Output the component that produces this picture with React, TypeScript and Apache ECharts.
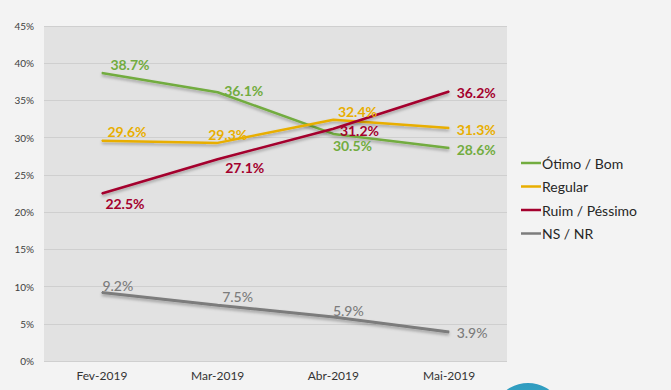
import React, { useEffect, useRef } from "react";
import * as echarts from "echarts";

const categories = ["Fev-2019", "Mar-2019", "Abr-2019", "Mai-2019"];
const otimoBom = [38.7, 36.1, 30.5, 28.6];
const regular = [29.6, 29.3, 32.4, 31.3];
const ruimPessimo = [22.5, 27.1, 31.2, 36.2];
const nsNr = [9.2, 7.5, 5.9, 3.9];
const seriesNames = ["Ótimo / Bom", "Regular", "Ruim / Péssimo", "NS / NR"];
const colors = ["#72ac3f", "#e8ae00", "#a4002d", "#7c7c7c"];

// label offsets (left edge / vertical centre relative to point)
const offsets: number[][][] = [
  [[8, -8], [6, -2], [-1, 12], [7, 1]],
  [[5, -9], [-10, -8], [4, -8], [7, 2]],
  [[3, 10], [7, 8], [6, 2], [7, 1]],
  [[0, -7], [4, -9], [-1, -7], [7, 1]],
];

export default function App() {
  const ref = useRef<HTMLDivElement>(null);
  useEffect(() => {
    document.body.style.margin = "0";
    const chart = echarts.init(ref.current!, null, { renderer: "svg" });
    const allData = [otimoBom, regular, ruimPessimo, nsNr];
    const font = "Lato, 'Open Sans', sans-serif";
    chart.setOption({
      animation: false,
      backgroundColor: "#f3f3f3",
      grid: {
        left: 44,
        right: 164,
        top: 26,
        bottom: 29,
        show: true,
        backgroundColor: "#e2e2e2",
        borderWidth: 0,
      },
      legend: {
        orient: "vertical",
        left: 516,
        top: 151,
        itemGap: 9.5,
        itemWidth: 20,
        itemHeight: 2.5,
        icon: "rect",
        textStyle: { color: "#262626", fontSize: 14, fontFamily: font, padding: [0, 0, 0, -4] },
        data: seriesNames,
      },
      xAxis: {
        type: "category",
        data: categories,
        boundaryGap: true,
        axisLine: { show: false },
        axisTick: { show: false },
        axisLabel: { color: "#333", fontSize: 12, fontFamily: font, margin: 8 },
      },
      yAxis: {
        type: "value",
        min: 0,
        max: 45,
        interval: 5,
        axisLine: { show: false },
        axisTick: { show: false },
        axisLabel: { formatter: "{value}%", color: "#404040", fontSize: 10, fontFamily: font, margin: 10 },
        splitLine: { lineStyle: { color: "#cfcfcf", width: 1 } },
      },
      series: allData.map((d, si) => ({
        name: seriesNames[si],
        type: "line",
        data: d.map((v, i) => ({
          value: v,
          label: {
            offset: offsets[si][i],
          },
        })),
        symbol: "circle",
        symbolSize: 1,
        color: colors[si],
        lineStyle: {
          width: si === 3 ? 3 : 2.5,
          color: colors[si],
          shadowColor: "rgba(0,0,0,0.3)",
          shadowBlur: 3,
          shadowOffsetY: 2,
        },
        label: {
          show: true,
          position: "right",
          distance: 0,
          formatter: (p: any) => p.value.toFixed(1) + "%",
          color: colors[si],
          fontSize: 14,
          lineHeight: 13,
          fontWeight: si === 3 ? 500 : "bold",
          fontFamily: font,
        },
      })),
      graphic: [
        {
          type: "circle",
          shape: { cx: 528, cy: 419, r: 36 },
          style: {
            fill: new echarts.graphic.LinearGradient(0, 0, 0, 1, [
              { offset: 0, color: "#2f9bc0" },
              { offset: 1, color: "#45c3c8" },
            ]),
          },
        },
      ],
    });
    return () => chart.dispose();
  }, []);
  return <div ref={ref} style={{ width: 671, height: 390 }} />;
}
